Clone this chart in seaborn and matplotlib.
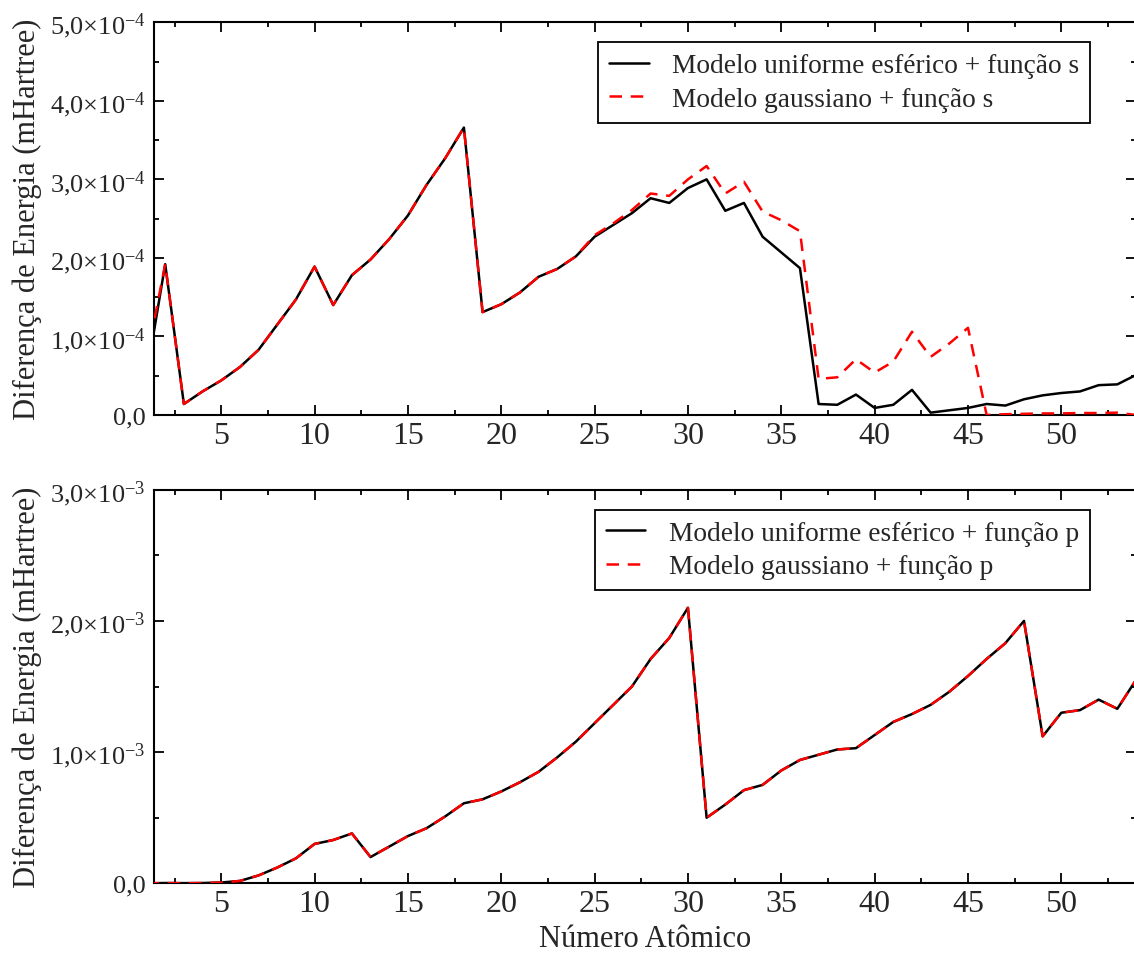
import numpy as np
import pandas as pd
import matplotlib
matplotlib.use("Agg")
import matplotlib.pyplot as plt
from matplotlib.ticker import MultipleLocator, FixedLocator, FixedFormatter
import seaborn as sns

# ---------------- data ----------------
atomic_number = list(range(1, 55))

# top panel (units of 1e-4 mHartree)
uniform_s = [0.50, 1.92, 0.14, 0.30, 0.44, 0.61, 0.83, 1.15, 1.47, 1.89,
             1.40, 1.78, 1.98, 2.24, 2.54, 2.93, 3.27, 3.66, 1.31, 1.41,
             1.56, 1.76, 1.86, 2.02, 2.27, 2.42, 2.57, 2.76, 2.70, 2.89,
             3.00, 2.60, 2.70, 2.27, 2.07, 1.87, 0.14, 0.13, 0.26, 0.09,
             0.13, 0.32, 0.03, 0.06, 0.09, 0.14, 0.12, 0.20, 0.25, 0.28,
             0.30, 0.38, 0.39, 0.51]
gauss_s = [0.70, 1.92, 0.14, 0.30, 0.44, 0.61, 0.83, 1.15, 1.47, 1.89,
           1.40, 1.78, 1.98, 2.24, 2.54, 2.93, 3.27, 3.66, 1.31, 1.41,
           1.56, 1.76, 1.86, 2.02, 2.29, 2.44, 2.61, 2.82, 2.79, 3.00,
           3.17, 2.82, 2.97, 2.59, 2.48, 2.34, 0.46, 0.48, 0.71, 0.54,
           0.68, 1.06, 0.74, 0.91, 1.11, 0.00, 0.01, 0.015, 0.02, 0.02,
           0.025, 0.025, 0.03, 0.00]

# bottom panel (units of 1e-3 mHartree)
uniform_p = [0.000, 0.002, 0.001, 0.002, 0.006, 0.018, 0.06, 0.12, 0.19, 0.30,
             0.33, 0.38, 0.20, 0.28, 0.36, 0.42, 0.51, 0.61, 0.64, 0.70,
             0.77, 0.85, 0.96, 1.08, 1.22, 1.36, 1.50, 1.71, 1.87, 2.10,
             0.50, 0.60, 0.71, 0.75, 0.86, 0.94, 0.98, 1.02, 1.03, 1.13,
             1.23, 1.29, 1.36, 1.46, 1.58, 1.71, 1.83, 2.00, 1.12, 1.30,
             1.32, 1.40, 1.33, 1.55]
gauss_p = list(uniform_p)

top_scale = 1e-4
bottom_scale = 1e-3

top_yticks = [0, 1e-4, 2e-4, 3e-4, 4e-4, 5e-4]
top_ytick_labels = ["0,0", "1,0×10$^{-4}$", "2,0×10$^{-4}$", "3,0×10$^{-4}$",
                    "4,0×10$^{-4}$", "5,0×10$^{-4}$"]
bottom_yticks = [0, 1e-3, 2e-3, 3e-3]
bottom_ytick_labels = ["0,0", "1,0×10$^{-3}$", "2,0×10$^{-3}$", "3,0×10$^{-3}$"]

top_labels = ["Modelo uniforme esférico + função s", "Modelo gaussiano + função s"]
bottom_labels = ["Modelo uniforme esférico + função p", "Modelo gaussiano + função p"]
ylabel_text = "Diferença de Energia (mHartree)"
xlabel_text = "Número Atômico"

# ---------------- style ----------------
sns.set_style("ticks")
plt.rcParams["font.family"] = ["Liberation Serif", "DejaVu Serif"]
plt.rcParams["mathtext.fontset"] = "custom"
plt.rcParams["mathtext.rm"] = "Liberation Serif"
plt.rcParams["mathtext.default"] = "regular"

fig = plt.figure(figsize=(11.34, 9.54), dpi=100)
ax_top = fig.add_axes([154 / 1134, 1 - 416 / 954, 982 / 1134, (416 - 23.3) / 954])
ax_bot = fig.add_axes([154 / 1134, 1 - 884.3 / 954, 982 / 1134, (884.3 - 490.7) / 954])

df_top = pd.DataFrame({"Z": atomic_number,
                       "uni": np.array(uniform_s) * top_scale,
                       "gau": np.array(gauss_s) * top_scale})
df_bot = pd.DataFrame({"Z": atomic_number,
                       "uni": np.array(uniform_p) * bottom_scale,
                       "gau": np.array(gauss_p) * bottom_scale})

dash = (0, (5, 3.5))
for ax, df, labels, yt, ytl, ymax in [
    (ax_top, df_top, top_labels, top_yticks, top_ytick_labels, 5e-4),
    (ax_bot, df_bot, bottom_labels, bottom_yticks, bottom_ytick_labels, 3e-3),
]:
    sns.lineplot(data=df, x="Z", y="uni", ax=ax, color="black", lw=1.8,
                 label=labels[0], zorder=2)
    sns.lineplot(data=df, x="Z", y="gau", ax=ax, color="#ff0000", lw=1.8,
                 linestyle=dash, label=labels[1], zorder=3)
    ax.set_xlim(1.4, 54)
    ax.set_ylim(0, ymax)
    ax.xaxis.set_major_locator(MultipleLocator(5))
    ax.xaxis.set_minor_locator(MultipleLocator(2.5))
    ax.yaxis.set_major_locator(FixedLocator(yt))
    ax.yaxis.set_major_formatter(FixedFormatter(ytl))
    ax.yaxis.set_minor_locator(MultipleLocator(yt[1] / 2))
    for s in ax.spines.values():
        s.set_linewidth(1.5)
        s.set_color("black")
    ax.tick_params(which="both", direction="in", top=True, right=True,
                   width=1.3, color="black")
    ax.tick_params(which="major", length=7)
    ax.tick_params(which="minor", length=3.5)
    ax.tick_params(axis="x", labelsize=23, pad=4)
    ax.tick_params(axis="y", labelsize=19, pad=6)
    ax.set_xlabel("")
    ax.set_ylabel(ylabel_text, fontsize=22)
    ax.yaxis.set_label_coords(-0.114, 0.5)
    leg = ax.legend(loc="upper right", bbox_to_anchor=(0.953, 0.949),
                    borderaxespad=0, fontsize=19.7, frameon=True,
                    fancybox=False, edgecolor="black", framealpha=1,
                    handlelength=1.45, handletextpad=0.85, labelspacing=0.3,
                    borderpad=0.4)
    leg.get_frame().set_linewidth(1.3)

ax_bot.set_xlabel(xlabel_text, fontsize=22)
ax_bot.xaxis.set_label_coords(0.5, -0.104)

fig.savefig("out.png", dpi=100)
